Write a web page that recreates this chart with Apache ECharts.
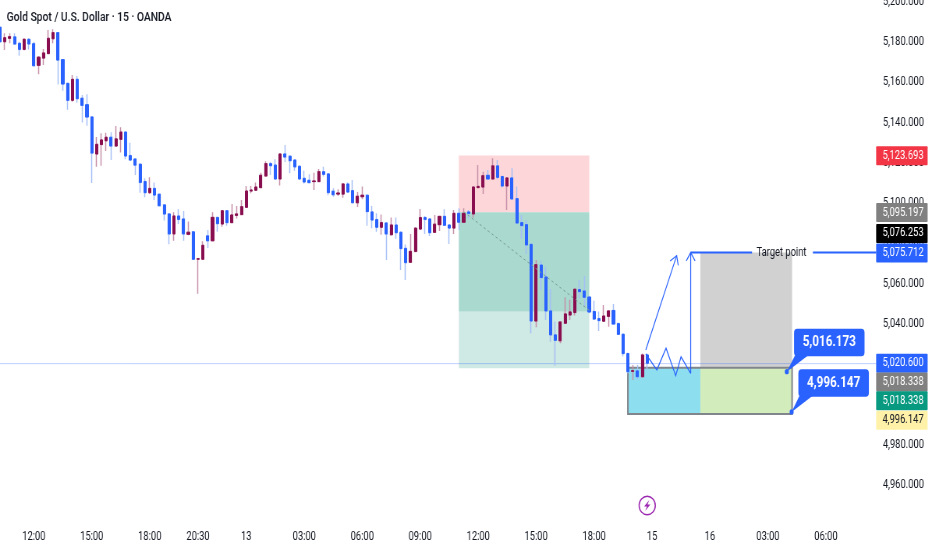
<!DOCTYPE html>
<html><head><meta charset="utf-8">
<style>html,body{margin:0;padding:0;background:#fff;overflow:hidden;width:932px;height:550px}
#c{width:1195px;height:550px;transform:scaleX(0.77992);transform-origin:0 0}</style>
<script src="https://cdn.jsdelivr.net/npm/echarts@6/dist/echarts.min.js"></script>
</head><body><div id="c"></div>
<script>
var opens=[5186.7,5179.5,5181.2,5181.9,5178.7,5175.7,5180.7,5178.5,5167.8,5171.4,5173.6,5181.0,5184.0,5170.6,5158.8,5150.4,5160.8,5151.4,5148.2,5142.1,5123.7,5128.4,5130.3,5132.0,5127.7,5131.0,5134.6,5122.9,5121.2,5118.6,5110.0,5104.5,5106.6,5103.7,5098.4,5093.9,5084.0,5092.9,5091.4,5083.8,5085.0,5071.4,5071.4,5083.0,5080.6,5092.1,5088.9,5095.5,5089.6,5093.2,5093.6,5097.2,5105.3,5105.7,5107.0,5112.8,5118.9,5118.2,5111.3,5123.7,5122.6,5120.7,5117.6,5111.6,5110.6,5110.0,5110.0,5114.9,5113.8,5105.2,5103.8,5103.8,5108.8,5105.5,5099.5,5102.5,5103.2,5094.9,5091.1,5087.3,5089.4,5083.6,5088.4,5084.8,5076.8,5069.9,5075.3,5086.4,5092.1,5091.4,5084.8,5088.6,5092.7,5088.4,5086.9,5094.2,5089.8,5094.9,5093.9,5107.0,5107.3,5113.1,5111.3,5117.8,5112.5,5107.8,5111.8,5101.5,5089.6,5088.6,5078.8,5040.7,5068.5,5062.6,5045.7,5033.8,5030.9,5039.6,5043.7,5044.9,5056.3,5055.6,5052.6,5045.4,5041.9,5040.6,5043.0,5045.9,5039.4,5034.1,5024.5,5015.7,5015.9,5013.0,5023.8];
var closes=[5179.5,5181.5,5182.0,5178.4,5175.7,5180.7,5178.4,5167.6,5171.8,5173.9,5181.2,5184.0,5170.4,5158.5,5150.4,5160.8,5151.2,5147.9,5142.1,5124.2,5128.5,5130.7,5132.0,5127.7,5131.2,5134.6,5122.7,5120.7,5118.2,5109.6,5104.5,5106.6,5103.3,5098.0,5093.9,5084.0,5092.9,5091.2,5084.0,5084.8,5071.4,5071.7,5078.3,5080.6,5092.2,5089.1,5095.5,5089.6,5093.4,5093.9,5097.5,5105.3,5105.8,5107.3,5113.1,5118.9,5117.9,5111.3,5123.7,5122.2,5120.4,5117.3,5111.3,5109.8,5109.5,5110.3,5114.9,5113.6,5104.5,5103.5,5104.3,5108.8,5104.8,5099.5,5102.7,5103.2,5095.1,5090.9,5087.3,5089.6,5084.0,5088.4,5084.6,5076.7,5069.7,5075.3,5086.8,5092.1,5091.2,5084.6,5088.8,5092.7,5088.3,5086.9,5094.2,5089.8,5094.2,5094.2,5107.3,5107.6,5112.9,5111.3,5117.8,5112.1,5107.8,5111.8,5101.4,5089.4,5088.1,5078.5,5040.7,5068.7,5062.3,5045.7,5033.8,5031.1,5040.2,5044.2,5045.2,5056.5,5055.3,5052.5,5045.2,5041.7,5040.9,5043.2,5045.7,5039.2,5034.1,5024.5,5015.5,5016.0,5013.0,5023.8,5019.7];
var highs=[5186.7,5183.7,5183.7,5183.7,5179.5,5181.2,5181.2,5179.5,5172.4,5175.9,5185.3,5185.7,5184.2,5170.8,5159.2,5163.0,5162.5,5153.0,5153.4,5142.3,5132.2,5134.0,5134.3,5134.5,5137.6,5137.0,5134.8,5129.3,5121.6,5119.1,5111.6,5112.1,5109.6,5103.8,5098.5,5094.2,5094.7,5096.2,5095.4,5090.2,5085.1,5071.9,5080.3,5085.9,5094.7,5092.6,5095.9,5095.7,5098.9,5097.9,5100.9,5107.8,5107.8,5109.6,5114.4,5120.1,5119.7,5121.1,5123.7,5128.2,5122.7,5121.1,5117.9,5115.4,5113.6,5114.4,5116.3,5117.4,5113.9,5106.7,5106.2,5109.1,5109.5,5110.8,5104.8,5107.5,5103.3,5097.9,5094.2,5093.6,5089.6,5092.2,5092.1,5085.0,5078.7,5083.9,5087.4,5096.4,5092.9,5091.7,5093.4,5092.9,5096.2,5088.4,5095.9,5096.7,5096.7,5095.9,5107.3,5118.2,5114.9,5115.8,5121.6,5120.7,5112.5,5112.0,5116.6,5107.5,5093.4,5090.9,5079.0,5071.0,5070.7,5067.7,5056.6,5040.4,5040.4,5052.5,5051.2,5056.5,5061.1,5063.1,5052.8,5050.8,5045.4,5048.7,5045.9,5049.2,5039.6,5034.2,5024.6,5018.8,5018.8,5024.6,5024.6];
var lows=[5179.0,5175.4,5178.7,5178.4,5172.6,5175.4,5175.7,5167.4,5163.3,5167.9,5173.6,5178.7,5158.3,5155.2,5145.7,5149.7,5149.2,5139.3,5137.8,5109.3,5117.4,5117.9,5125.2,5120.7,5127.4,5124.4,5121.1,5120.4,5113.3,5104.5,5102.2,5103.8,5100.9,5097.9,5090.6,5078.8,5080.6,5088.9,5080.6,5083.3,5071.2,5054.3,5071.0,5077.0,5080.3,5085.1,5087.6,5088.1,5089.6,5091.7,5093.6,5096.9,5104.2,5105.5,5106.8,5112.8,5113.3,5111.0,5108.1,5119.7,5114.1,5115.4,5111.0,5109.1,5109.1,5105.8,5109.8,5112.5,5103.2,5102.5,5102.8,5102.0,5104.6,5099.2,5097.4,5101.2,5088.1,5086.8,5085.1,5083.6,5071.0,5083.3,5081.6,5066.1,5061.1,5069.7,5075.2,5086.3,5083.9,5083.0,5084.4,5085.4,5088.1,5079.0,5083.9,5085.9,5089.4,5091.7,5092.2,5107.0,5103.8,5111.1,5111.1,5111.1,5107.0,5095.9,5100.9,5089.2,5081.6,5074.0,5034.6,5037.6,5056.1,5041.2,5030.4,5018.5,5029.6,5039.4,5041.2,5043.4,5052.0,5047.8,5044.5,5041.2,5035.7,5040.2,5037.9,5039.1,5033.8,5023.0,5014.7,5011.4,5011.7,5012.7,5016.4];

var categoryCount=194;
var tickIndices=[7,19,31,41,51,63,75,87,99,111,123,135,147,159,171];
var tickLabels=['12:00','15:00','18:00','20:30','13','03:00','06:00','09:00','12:00','15:00','18:00','15','16','03:00','06:00'];

var titleText='Gold Spot / U.S. Dollar \u00b7 15 \u00b7 OANDA';

// price tags on the right: [text, anchor price]
var tagTexts=['5,123.693','5,095.197','5,076.253','5,075.712','5,020.600','5,018.338','5,018.338','4,996.147'];
var tagAnchors=[5122.8,5094.6,5084.2,5074.5,5019.7,5010.4,5001.1,4991.4];

// annotation geometry in data units [start index, end index, upper price, lower price]
var riskZone=[95,122,5122.9,5094.7];
var rewardZoneA=[95,122,5094.7,5045.3];
var rewardZoneB=[95,122,5045.3,5017.2];
var targetZone=[145,164,5074.7,5017.5];
var entryZoneLeft=[130,145,5017.5,4994.5];
var entryZoneRight=[145,164,5017.5,4994.5];
var entryOutline=[130,164,5017.5,4994.5];
var dashedIdx=[96,122], dashedPrice=[5095,5046];
var zigIdx=[133.7,136,137.9,139.9,141,143], zigPrice=[5024.3,5016.4,5027.2,5013.5,5022.9,5014.7];
var riseIdx=[133.7,140.1], risePrice=[5026.3,5073.2];
var liftIdx=143, liftPrice=[5014.7,5074.7];
var targetPrice=5074.7, targetIdx=[143,155.7,168.3,181.4], targetTextIdx=161.8;
var targetText='Target point';
var lastPrice=5019.5;
// callouts: text, dot index, dot price, box left index, box centre price
var calloutTexts=['5,016.173','4,996.147'];
var calloutDotIdx=[162.9,163.9], calloutDotPrice=[5015.5,4995.5];
var calloutBoxIdx=[164.4,165.3], calloutBoxPrice=[5030,5009.9];
var boltAt=[134,4949];

var candleData=opens.map(function(o,i){return [o,closes[i],lows[i],highs[i]];});
var bodyData=opens.map(function(o,i){return [o,closes[i],Math.min(o,closes[i]),Math.max(o,closes[i])];});
var cats=[];for(var i=0;i<categoryCount;i++)cats.push('');
tickIndices.forEach(function(ix,k){cats[ix]=tickLabels[k];});

var FONT='Roboto,"Noto Sans",sans-serif';
var BLUE='#2962ff',MAROON='#880e4f';

function rectOf(api,r,fill,stroke){
  var a=api.coord([r[0],r[2]]),b=api.coord([r[1],r[3]]);
  return {type:'rect',shape:{x:a[0],y:a[1],width:b[0]-a[0],height:b[1]-a[1]},
    style:stroke?{fill:'none',stroke:stroke,lineWidth:2}:{fill:fill}};
}
function lineOf(a,b,color,w,dash){
  return {type:'line',shape:{x1:a[0],y1:a[1],x2:b[0],y2:b[1]},
    style:{stroke:color,lineWidth:w,lineDash:dash||null}};
}
function arrow(tip,from){
  var ang=Math.atan2(from[1]-tip[1],from[0]-tip[0]),L=10,d=0.6;
  return {type:'polyline',shape:{points:[[tip[0]+L*Math.cos(ang-d),tip[1]+L*Math.sin(ang-d)],tip,[tip[0]+L*Math.cos(ang+d),tip[1]+L*Math.sin(ang+d)]]},
    style:{fill:'none',stroke:BLUE,lineWidth:1.2}};
}
function renderBack(p,api){
  return {type:'group',children:[
    rectOf(api,riskZone,'#fdd6d9'),
    rectOf(api,rewardZoneA,'#a9d9cf'),
    rectOf(api,rewardZoneB,'#cfe9e4'),
    rectOf(api,targetZone,'#d1d1d1'),
    rectOf(api,entryZoneLeft,'#8ddfef'),
    rectOf(api,entryZoneRight,'#d3ecbc'),
    rectOf(api,entryOutline,null,'#80868c'),
    lineOf(api.coord([-0.5,lastPrice]),api.coord([181.4,lastPrice]),'rgba(41,98,255,0.3)',1)
  ]};
}
function renderFront(p,api){
  var kids=[];
  kids.push(lineOf(api.coord([dashedIdx[0],dashedPrice[0]]),api.coord([dashedIdx[1],dashedPrice[1]]),'#7d9e98',1,[3,3]));
  var zig=zigIdx.map(function(x,k){return api.coord([x,zigPrice[k]]);});
  kids.push({type:'polyline',shape:{points:zig},style:{fill:'none',stroke:BLUE,lineWidth:1.2}});
  var r0=api.coord([riseIdx[0],risePrice[0]]),r1=api.coord([riseIdx[1],risePrice[1]]);
  kids.push(lineOf(r0,r1,BLUE,1.2));kids.push(arrow(r1,r0));
  var l0=api.coord([liftIdx,liftPrice[0]]),l1=api.coord([liftIdx,liftPrice[1]]);
  kids.push(lineOf(l0,l1,BLUE,1.2));kids.push(arrow(l1,l0));
  kids.push(lineOf(api.coord([targetIdx[0],targetPrice]),api.coord([targetIdx[1],targetPrice]),BLUE,2));
  kids.push(lineOf(api.coord([targetIdx[2],targetPrice]),api.coord([targetIdx[3],targetPrice]),BLUE,2));
  var tp=api.coord([targetTextIdx,targetPrice]);
  kids.push({type:'text',x:tp[0],y:tp[1],style:{text:targetText,font:'12px '+FONT,fill:'#131722',align:'center',verticalAlign:'middle'}});
  calloutTexts.forEach(function(t,k){
    var dot=api.coord([calloutDotIdx[k],calloutDotPrice[k]]),box=api.coord([calloutBoxIdx[k],calloutBoxPrice[k]]);
    var w=90.4,h=27.5,bx=box[0],by=box[1]-h/2;
    kids.push({type:'polygon',shape:{points:[[bx+2,by+h-2],[bx+20,by+h-2],dot]},style:{fill:BLUE}});
    kids.push({type:'rect',shape:{x:bx,y:by,width:w,height:h,r:4},style:{fill:BLUE}});
    kids.push({type:'text',x:bx+w/2,y:by+h/2,style:{text:t,font:'bold 15px '+FONT,fill:'#fff',align:'center',verticalAlign:'middle'}});
    kids.push({type:'circle',shape:{cx:dot[0],cy:dot[1],r:2.6},style:{fill:BLUE}});
  });
  var tagFill=['#f23645','#808080','#000000',BLUE,BLUE,'#808080','#089981','#fff2a8'];
  var tagInk=['#fff','#fff','#fff','#fff','#fff','#fff','#fff','#131722'];
  tagTexts.forEach(function(t,k){
    var cy=api.coord([0,tagAnchors[k]])[1];
    var x0=api.coord([181.4,0])[0];
    var h=19;
    kids.push({type:'rect',shape:{x:x0,y:cy-h/2,width:66,height:h,r:1},style:{fill:tagFill[k]}});
    kids.push({type:'text',x:x0+34.5,y:cy,style:{text:t,font:'12px '+FONT,fill:tagInk[k],align:'center',verticalAlign:'middle'}});
  });
  var b=api.coord(boltAt);
  kids.push({type:'ellipse',shape:{cx:b[0],cy:b[1],rx:10.4,ry:9.2},style:{fill:'#fff',stroke:'#9c27b0',lineWidth:1.5}});
  kids.push({type:'polygon',shape:{points:[[b[0]+2.6,b[1]-5.5],[b[0]-4,b[1]+0.9],[b[0]-0.4,b[1]+0.9],[b[0]-2.6,b[1]+5.5],[b[0]+4,b[1]-0.9],[b[0]+0.4,b[1]-0.9]]},style:{fill:'#9c27b0'}});
  return {type:'group',children:kids};
}

var chart=echarts.init(document.getElementById('c'),null,{renderer:'canvas'});
chart.setOption({
  animation:false,
  backgroundColor:'#fff',
  title:{text:titleText,left:8.6,top:11,padding:0,textStyle:{fontFamily:FONT,fontSize:13.2,fontWeight:500,color:'#131722'}},
  grid:{left:-3.1,top:0.5,width:1201.4,height:523.1,outerBoundsMode:'none'},
  xAxis:[
    {type:'category',data:cats,boundaryGap:true,axisLine:{show:false},axisTick:{show:false},splitLine:{show:false},
     axisLabel:{interval:0,margin:7,hideOverlap:false,fontFamily:FONT,fontSize:12,color:'#131722',lineHeight:12}},
    {type:'value',min:-0.5,max:categoryCount-0.5,show:false}
  ],
  yAxis:{type:'value',position:'right',min:4940,max:5200,interval:20,axisLine:{show:false},axisTick:{show:false},splitLine:{show:false},
    axisLabel:{inside:true,margin:13.6,verticalAlign:'top',lineHeight:3,fontFamily:FONT,fontSize:12,color:'#131722',showMinLabel:true,showMaxLabel:true,
      formatter:function(v){return v<4960?'':v.toLocaleString('en-US',{minimumFractionDigits:3,maximumFractionDigits:3});}}},
  series:[
    {type:'custom',name:'zones',coordinateSystem:'cartesian2d',xAxisIndex:1,yAxisIndex:0,data:[[0,5000]],renderItem:renderBack,clip:false,silent:true,z:1},
    {type:'candlestick',name:'wicks',xAxisIndex:0,yAxisIndex:0,data:candleData,barWidth:2,silent:true,z:2,
      itemStyle:{color:'#c68fa9',color0:'#a6bff7',borderColor:'#c68fa9',borderColor0:'#a6bff7',borderWidth:1.5}},
    {type:'candlestick',name:'bodies',xAxisIndex:0,yAxisIndex:0,data:bodyData,barWidth:3.6,silent:true,z:3,
      itemStyle:{color:MAROON,color0:BLUE,borderColor:MAROON,borderColor0:BLUE,borderWidth:1}},
    {type:'custom',name:'drawings',coordinateSystem:'cartesian2d',xAxisIndex:1,yAxisIndex:0,data:[[0,5000]],renderItem:renderFront,clip:false,silent:true,z:5}
  ]
});
</script></body></html>
